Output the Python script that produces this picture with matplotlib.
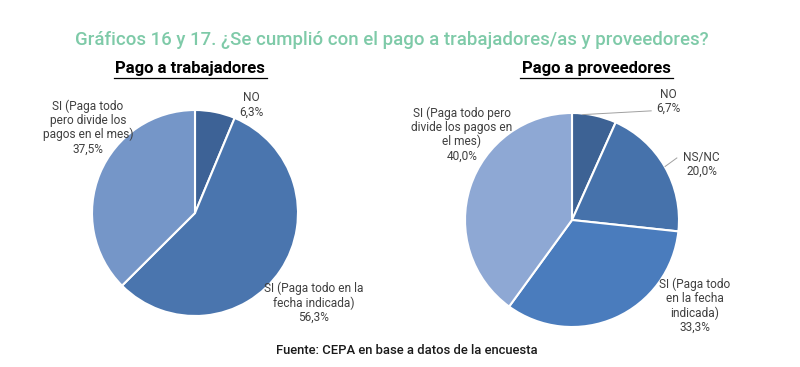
import matplotlib.pyplot as plt

# data
trab_labels = ['NO', 'SI (Paga todo en la\nfecha indicada)', 'SI (Paga todo\npero divide los\npagos en el mes)']
trab_values = [6.3, 56.3, 37.5]
trab_colors = ['#3d6296', '#4a75ae', '#7596c8']

prov_labels = ['NO', 'NS/NC', 'SI (Paga todo\nen la fecha\nindicada)', 'SI (Paga todo pero\ndivide los pagos en\nel mes)']
prov_values = [6.7, 20.0, 33.3, 40.0]
prov_colors = ['#3d6294', '#4672ab', '#4a7cbd', '#8ea8d4']

W, H = 800, 367
FONT = 'Roboto'
TXT = '#404040'
LFS = 8.6


def pie_axes(fig, cx, cy, r):
    ax = fig.add_axes([(cx - r) / W, 1 - (cy + r) / H, 2 * r / W, 2 * r / H])
    return ax


def finish(ax):
    ax.set_xlim(-1, 1)
    ax.set_ylim(-1, 1)
    ax.axis('off')


def fmt(v):
    return ('%.1f%%' % v).replace('.', ',')


fig = plt.figure(figsize=(8, 3.67), dpi=100)

fig.text(391.5 / W, 1 - 40 / H, 'Gráficos 16 y 17. ¿Se cumplió con el pago a trabajadores/as y proveedores?',
         ha='center', va='center', color='#7ecaa8', fontsize=13.4, fontweight='medium', family=FONT)

for x, t in [(190, 'Pago a trabajadores'), (596, 'Pago a proveedores')]:
    fig.text(x / W, 1 - 69 / H, t, ha='center', va='center', fontsize=12, fontweight='bold',
             family=FONT, color='black')
    # underline
    w = 153
    fig.add_artist(plt.Line2D([(x - w / 2) / W, (x + w / 2) / W], [1 - 78 / H, 1 - 78 / H],
                              color='black', lw=0.9))

# left pie
ax1 = pie_axes(fig, 195, 213, 103)
ax1.pie(trab_values, colors=trab_colors, startangle=90, counterclock=False, radius=1,
        wedgeprops=dict(edgecolor='white', linewidth=1.5))
finish(ax1)
pos1 = [(0.55, 1.05), (1.15, -0.87), (-1.04, 0.83)]
for lab, v, (x, y) in zip(trab_labels, trab_values, pos1):
    ax1.text(x, y, lab + '\n' + fmt(v), ha='center', va='center', fontsize=LFS,
             family=FONT, color=TXT, linespacing=1.1, clip_on=False)

# right pie
ax2 = pie_axes(fig, 572, 220, 107)
ax2.pie(prov_values, colors=prov_colors, startangle=90, counterclock=False, radius=1,
        wedgeprops=dict(edgecolor='white', linewidth=1.5))
finish(ax2)
pos2 = [(0.90, 1.11), (1.21, 0.52), (1.15, -0.80), (-1.03, 0.80)]
for lab, v, (x, y) in zip(prov_labels, prov_values, pos2):
    ax2.text(x, y, lab + '\n' + fmt(v), ha='center', va='center', fontsize=LFS,
             family=FONT, color=TXT, linespacing=1.1, clip_on=False)
# leader lines
ax2.plot([0.10, 0.74], [0.985, 1.02], color='#a0a0a0', lw=0.7, clip_on=False)
ax2.plot([0.87, 0.98], [0.50, 0.58], color='#a0a0a0', lw=0.7, clip_on=False)

fig.text(276 / W, 1 - 351 / H, 'Fuente: CEPA en base a datos de la encuesta',
         ha='left', va='center', fontsize=9.4, fontweight='medium', family=FONT, color='#1a1a1a')

fig.savefig('out.png', dpi=100, facecolor='white')
